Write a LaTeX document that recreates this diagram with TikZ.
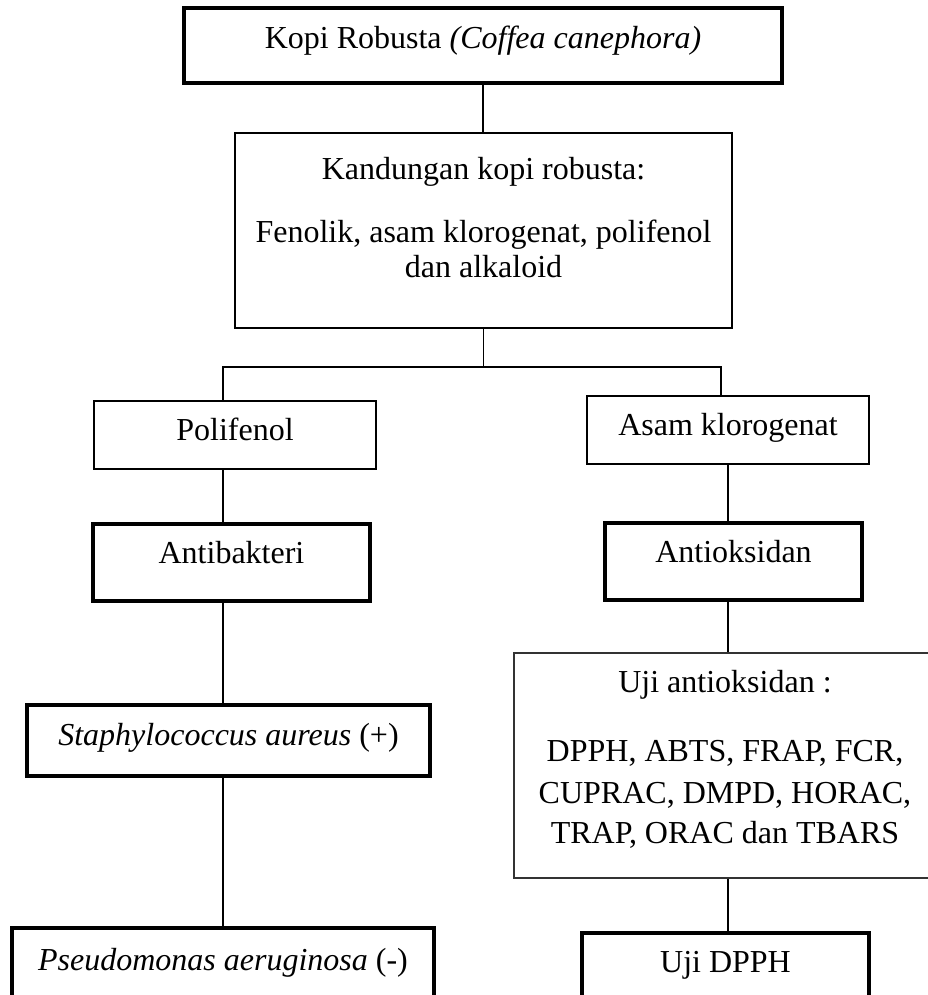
\documentclass[tikz,border=0pt]{standalone}
\usepackage{fontspec}
\setmainfont{Liberation Serif}

\begin{document}
\begin{tikzpicture}[
  x=1pt,y=-1pt,
  every node/.style={font=\fontsize{32}{36}\selectfont},
  thinbox/.style={draw=black,line width=1.6pt,inner sep=0pt,text height=22pt},
  thickbox/.style={draw=black,line width=3.3pt,inner sep=0pt,text height=22pt},
  txt/.style={anchor=base,inner sep=0pt},
  conn/.style={draw=black,line width=1.6pt},
]
\useasboundingbox (0,0) rectangle (928,995);

% Top of the tree
\node[thickbox,minimum width=598,minimum height=75,text depth=15pt] (kopi) at (483,45.5)
  {Kopi Robusta \textit{(Coffea canephora)}};
\node[thinbox,minimum width=497,minimum height=195] (kandungan) at (483.5,230.5) {};
\node[txt] (kandunganA) at (483.5,180) {Kandungan kopi robusta:};
\node[txt] (kandunganB) at (483.5,242) {Fenolik, asam klorogenat, polifenol};
\node[txt] (kandunganC) at (483.5,277) {dan alkaloid};

% Left branch
\node[thinbox,minimum width=282,minimum height=68,text depth=12pt] (polifenol) at (235,435) {Polifenol};
\node[thickbox,minimum width=277,minimum height=77,text depth=21pt] (antibakteri) at (231.5,562.5) {Antibakteri};
\node[thickbox,minimum width=403,minimum height=71,text depth=13pt] (staph) at (228.5,740.5)
  {\textit{Staphylococcus aureus} (+)};
\node[thickbox,minimum width=422,minimum height=71,text depth=9pt] (pseudo) at (223,963.5)
  {\textit{Pseudomonas aeruginosa} (-)};

% Right branch
\node[thinbox,minimum width=282,minimum height=68,text depth=12pt] (asam) at (728,430) {Asam klorogenat};
\node[thickbox,minimum width=257,minimum height=77,text depth=21pt] (antioksidan) at (733.5,561.5) {Antioksidan};
\node[thinbox,draw=black!80,line width=1.3pt,minimum width=422,minimum height=225] (ujiantioks) at (725,765.5) {};
\node[txt] (ujiA) at (725,692) {Uji antioksidan :};
\node[txt] (ujiB) at (725,761) {DPPH, ABTS, FRAP, FCR,};
\node[txt] (ujiC) at (725,803) {CUPRAC, DMPD, HORAC,};
\node[txt] (ujiD) at (725,843) {TRAP, ORAC dan TBARS};
\node[thickbox,minimum width=287,minimum height=71,text depth=15pt] (ujidpph) at (725.5,968.5) {Uji DPPH};

% Connectors
\coordinate (barL) at (223,367);
\coordinate (barR) at (721,367);
\draw[conn] (kopi.south) -- (kopi.south |- kandungan.north);
\draw[conn] (kandungan.south) -- (kandungan.south |- barL);
\draw[conn] (barL |- polifenol.north) -- (barL) -- (barR) -- (barR |- asam.north);
\draw[conn] (barL |- polifenol.south) -- (barL |- antibakteri.north);
\draw[conn] (antibakteri.south -| pseudo.north) -- (staph.north -| pseudo.north);
\draw[conn] (staph.south -| pseudo.north) -- (pseudo.north);
\draw[conn] (asam.south) -- (asam.south |- antioksidan.north);
\draw[conn] (antioksidan.south -| asam.south) -- (ujiantioks.north -| asam.south);
\draw[conn] (ujiantioks.south -| asam.south) -- (ujidpph.north -| asam.south);

\end{tikzpicture}
\end{document}
